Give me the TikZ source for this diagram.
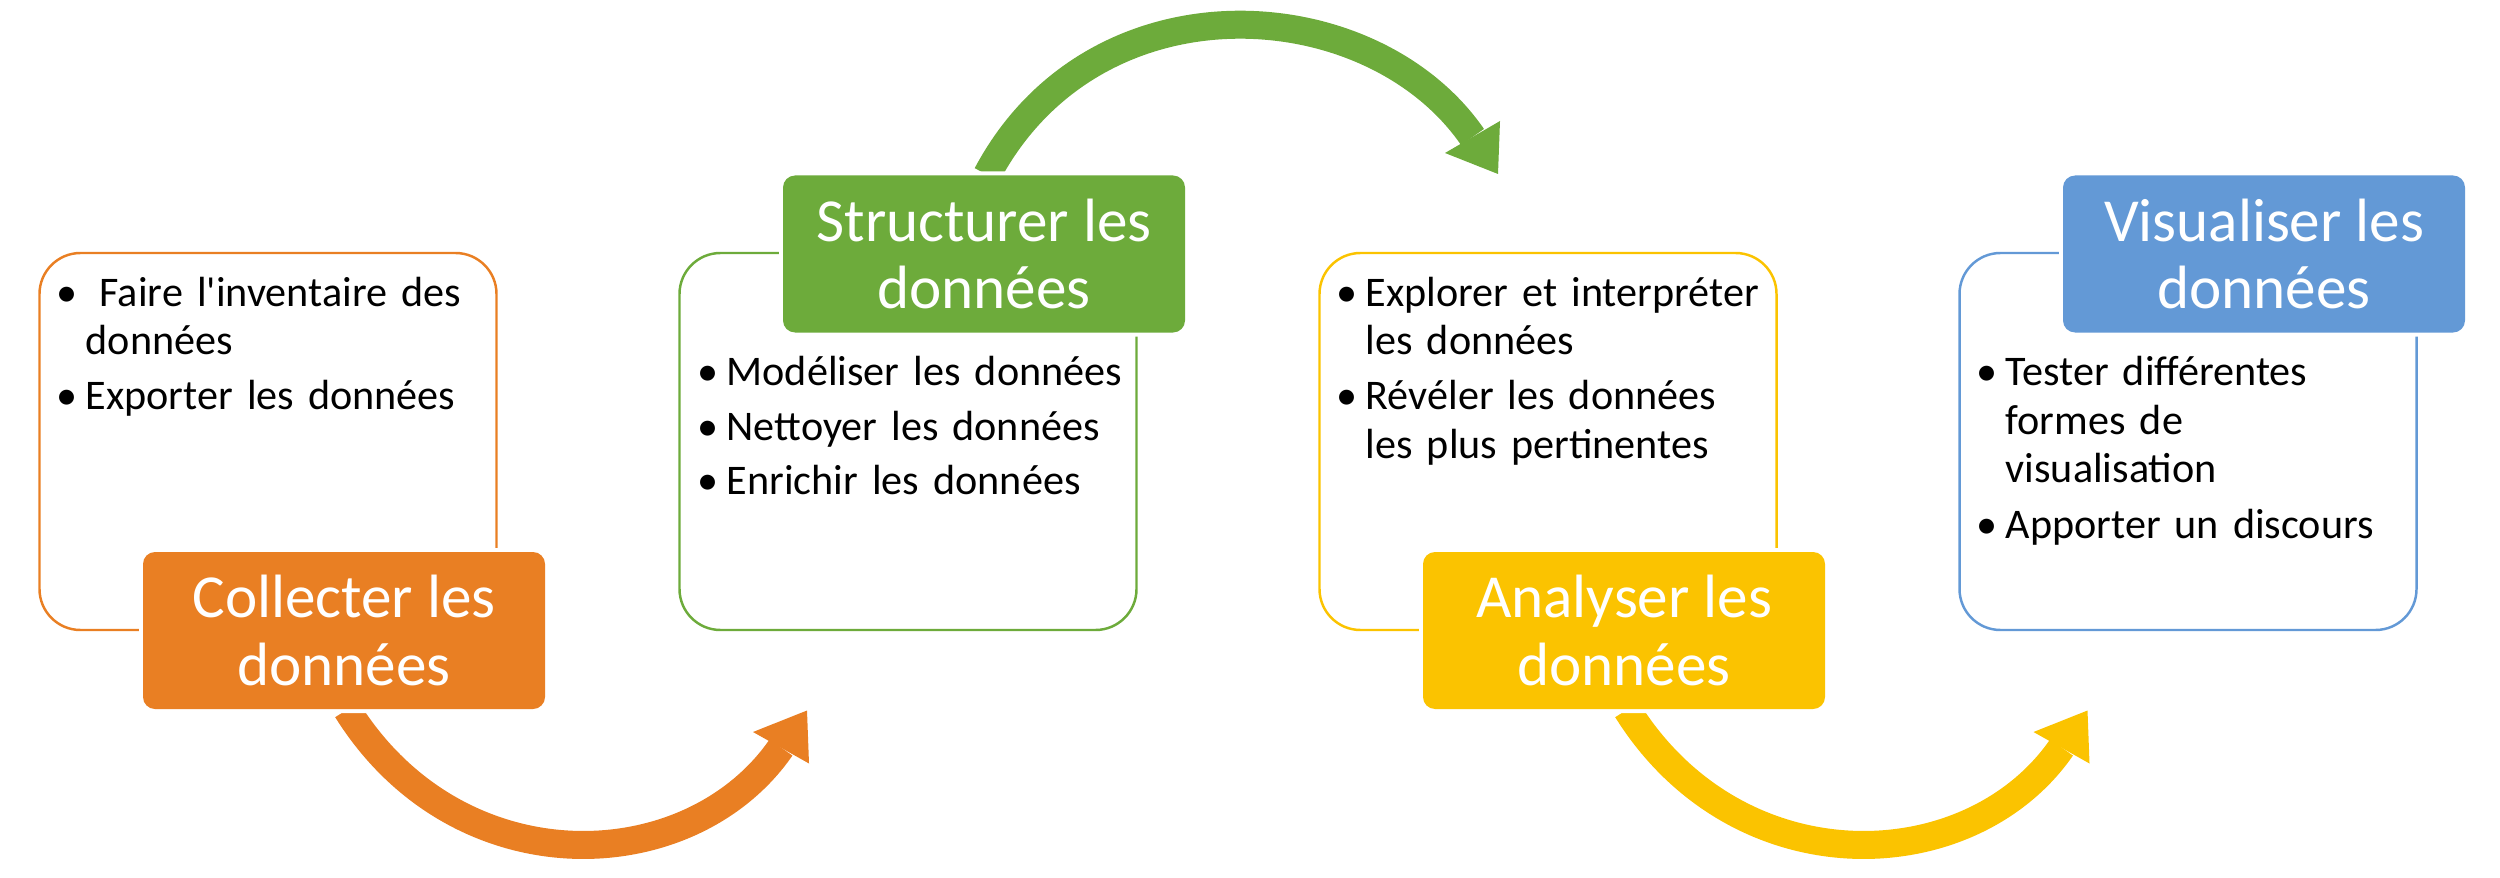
\documentclass[tikz,border=0pt]{standalone}
\usepackage{fontspec}
\setmainfont{Carlito}
\usetikzlibrary{backgrounds}
\definecolor{orangeC}{RGB}{233,127,35}
\definecolor{vertS}{RGB}{109,171,59}
\definecolor{jauneA}{RGB}{251,195,0}
\definecolor{bleuV}{RGB}{99,153,214}
\newcommand{\puce}{\leavevmode\llap{\makebox[0.12cm][c]{\textbullet}\hspace{0.13cm}}}
\tikzset{
  cadre/.style={draw=#1, line width=0.7pt, rounded corners=0.41cm, minimum width=4.57cm, minimum height=3.77cm, inner sep=0pt},
  titre/.style={fill=#1, text=white, rounded corners=0.12cm, minimum width=4.02cm, minimum height=1.57cm, inner sep=0pt, align=center, font=\fontsize{17.4}{19.3}\selectfont, preaction={draw=white, line width=0.08cm}},
  liste/.style={anchor=base west, inner sep=0pt, text width=4.2cm, align=left, font=\fontsize{12}{13.66}\selectfont},
  fleche/.style={draw=#1, line width=0.28cm},
}
\begin{document}
\begin{tikzpicture}
	\useasboundingbox (0,0) rectangle (25,8.77);
	
	% cadres
	\node[cadre=orangeC] (collectcadre) at (2.68,4.355) {};
	\node[cadre=vertS] (structurecadre) at (9.08,4.355) {};
	\node[cadre=jauneA] (analysecadre) at (15.48,4.355) {};
	\node[cadre=bleuV] (visualisecadre) at (21.88,4.355) {};
	
	% titres
	\node[titre=orangeC] (collect) at (3.44,2.465) {Collecter les\\données};
	\node[titre=vertS] (structure) at (9.84,6.23) {Structurer les\\données};
	\node[titre=jauneA] (analyse) at (16.24,2.465) {Analyser les\\données};
	\node[titre=bleuV] (visualise) at (22.64,6.23) {Visualiser les\\données};
	
	% listes
	\node[liste] (collect1) at (0.85,5.71) {\puce\ Faire l\textquotesingle inventaire des\\données};
	\node[liste] (collect2) at (0.85,4.67) {\puce Exporter les données};
	\node[liste] (structure1) at (7.26,4.91) {\puce Modéliser les données};
	\node[liste] (structure2) at (7.26,4.37) {\puce Nettoyer les données};
	\node[liste] (structure3) at (7.26,3.83) {\puce Enrichir les données};
	\node[liste] (analyse1) at (13.65,5.71) {\puce Explorer et interpréter\\les données};
	\node[liste] (analyse2) at (13.65,4.67) {\puce Révéler les données\\les plus pertinentes};
	\node[liste] (visualise1) at (20.05,4.91) {\puce Tester différentes\\formes de\\visualisation};
	\node[liste] (visualise2) at (20.05,3.39) {\puce Apporter un discours};
	
	% fleches
	\coordinate (collecthead) at (7.81,1.295);
	\coordinate (structurehead) at (14.725,7.40);
	\coordinate (analysehead) at (20.615,1.295);
	\begin{scope}[on background layer]
		\draw[fleche=orangeC] ([xshift=0.03cm]collect.south) .. controls +(-58:2.1) and +(235.3:1.6) .. (collecthead);
		\fill[orangeC] (collecthead) ++(-0.28,0.155) -- ++(0.54,0.215) -- ++(0.02,-0.53) -- cycle;
		\draw[fleche=vertS] ([xshift=0.03cm]structure.north) .. controls +(62:2.3) and +(124.6:1.78) .. (structurehead);
		\fill[vertS] (structurehead) ++(-0.275,-0.16) -- ++(0.53,-0.21) -- ++(0.02,0.53) -- cycle;
		\draw[fleche=jauneA] ([xshift=0.03cm]analyse.south) .. controls +(-58:2.1) and +(235.3:1.6) .. (analysehead);
		\fill[jauneA] (analysehead) ++(-0.28,0.155) -- ++(0.54,0.215) -- ++(0.02,-0.53) -- cycle;
	\end{scope}
\end{tikzpicture}
\end{document}
